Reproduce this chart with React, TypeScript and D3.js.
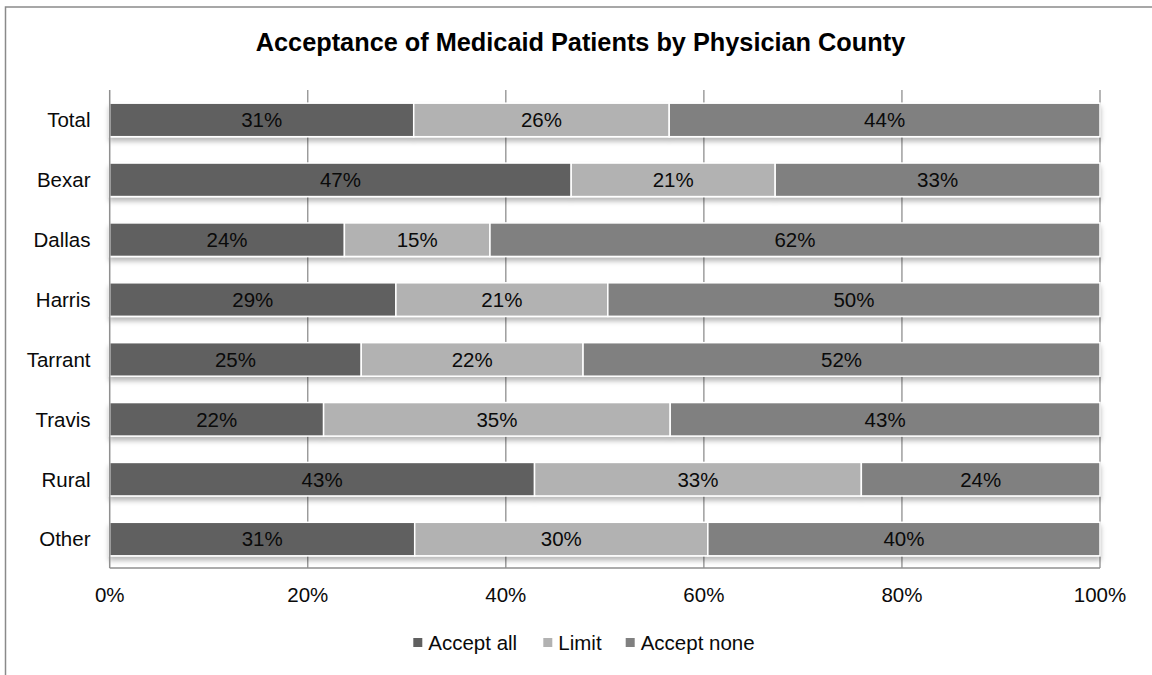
import React from "react";
import * as d3 from "d3";

const categories = ["Total", "Bexar", "Dallas", "Harris", "Tarrant", "Travis", "Rural", "Other"];
const acceptAll = [30.7, 46.6, 23.7, 28.9, 25.4, 21.6, 42.9, 30.8];
const limit = [25.8, 20.6, 14.7, 21.4, 22.4, 35.0, 33.0, 29.6];
const acceptNone = [43.5, 32.8, 61.6, 49.7, 52.2, 43.4, 24.1, 39.6];
const seriesNames = ["Accept all", "Limit", "Accept none"];
const xTicks = [0, 20, 40, 60, 80, 100];
const title = "Acceptance of Medicaid Patients by Physician County";

const colors = ["#606060", "#b2b2b2", "#808080"];
const FONT = "'Liberation Sans', Arial, sans-serif";
const FS = 20.5;

export default function App() {
  const W = 1152, H = 675;
  const x = d3.scaleLinear().domain([0, 100]).range([109.7, 1100]);
  const y = d3.scaleBand<string>().domain(categories).range([90, 569]).paddingInner(0.44).paddingOuter(0.22);
  const rows = categories.map((c, i) => ({ cat: c, vals: [acceptAll[i], limit[i], acceptNone[i]] }));
  const stack = d3.stack<any>().keys(["0", "1", "2"]).value((d: any, k: string) => d.vals[+k]);
  const stacked = stack(rows);
  const bh = y.bandwidth();

  const legendY = 642.5;
  const legendItems = [
    { name: seriesNames[0], x: 413.3 },
    { name: seriesNames[1], x: 543.3 },
    { name: seriesNames[2], x: 625.7 },
  ];

  return (
    <svg width={W} height={H} style={{ position: "absolute", left: 0, top: 0, background: "#fff" }} fontFamily={FONT}>
      <defs>
        <filter id="sh" x="-5%" y="-30%" width="110%" height="180%">
          <feDropShadow dx="0" dy="4" stdDeviation="2.5" floodColor="#000" floodOpacity="0.28" />
        </filter>
      </defs>
      <rect x={0} y={0} width={W} height={H} fill="#fff" />
      <rect x={5.5} y={7} width={W + 20} height={H + 20} fill="none" stroke="#8a8a8a" strokeWidth={1.5} />
      <text x={580.5} y={51} textAnchor="middle" fontSize={25.3} fontWeight="bold" fill="#000">{title}</text>

      {xTicks.slice(1).map((t) => (
        <line key={t} x1={x(t)} x2={x(t)} y1={90} y2={568} stroke="#8f8f8f" strokeWidth={1.3} />
      ))}

      {rows.map((r, i) => (
        <g key={r.cat} filter="url(#sh)">
          {stacked.map((s, k) => (
            <rect
              key={k}
              x={x(s[i][0])}
              y={y(r.cat)!}
              width={x(s[i][1]) - x(s[i][0])}
              height={bh}
              fill={colors[k]}
              stroke="#fff"
              strokeWidth={1.5}
            />
          ))}
        </g>
      ))}

      <line x1={x(0)} x2={x(0)} y1={90} y2={568} stroke="#8f8f8f" strokeWidth={1.5} />
      <line x1={x(0)} x2={x(100)} y1={568} y2={568} stroke="#8f8f8f" strokeWidth={1.5} />

      {rows.map((r, i) =>
        stacked.map((s, k) => (
          <text
            key={r.cat + k}
            x={(x(s[i][0]) + x(s[i][1])) / 2}
            y={y(r.cat)! + bh / 2}
            dy="0.36em"
            textAnchor="middle"
            fontSize={FS}
            fill="#0a0a0a"
          >
            {Math.round(r.vals[k])}%
          </text>
        ))
      )}

      {categories.map((c) => (
        <text key={c} x={90.5} y={y(c)! + bh / 2} dy="0.36em" textAnchor="end" fontSize={FS} fill="#0a0a0a">
          {c}
        </text>
      ))}

      {xTicks.map((t) => (
        <text key={t} x={x(t)} y={595} dy="0.36em" textAnchor="middle" fontSize={FS} fill="#0a0a0a">
          {t}%
        </text>
      ))}

      {legendItems.map((l, k) => (
        <g key={l.name}>
          <rect x={l.x} y={legendY - 4.5} width={9} height={9} fill={colors[k]} />
          <text x={l.x + 15} y={legendY} dy="0.36em" fontSize={FS} fill="#0a0a0a">{l.name}</text>
        </g>
      ))}
    </svg>
  );
}
